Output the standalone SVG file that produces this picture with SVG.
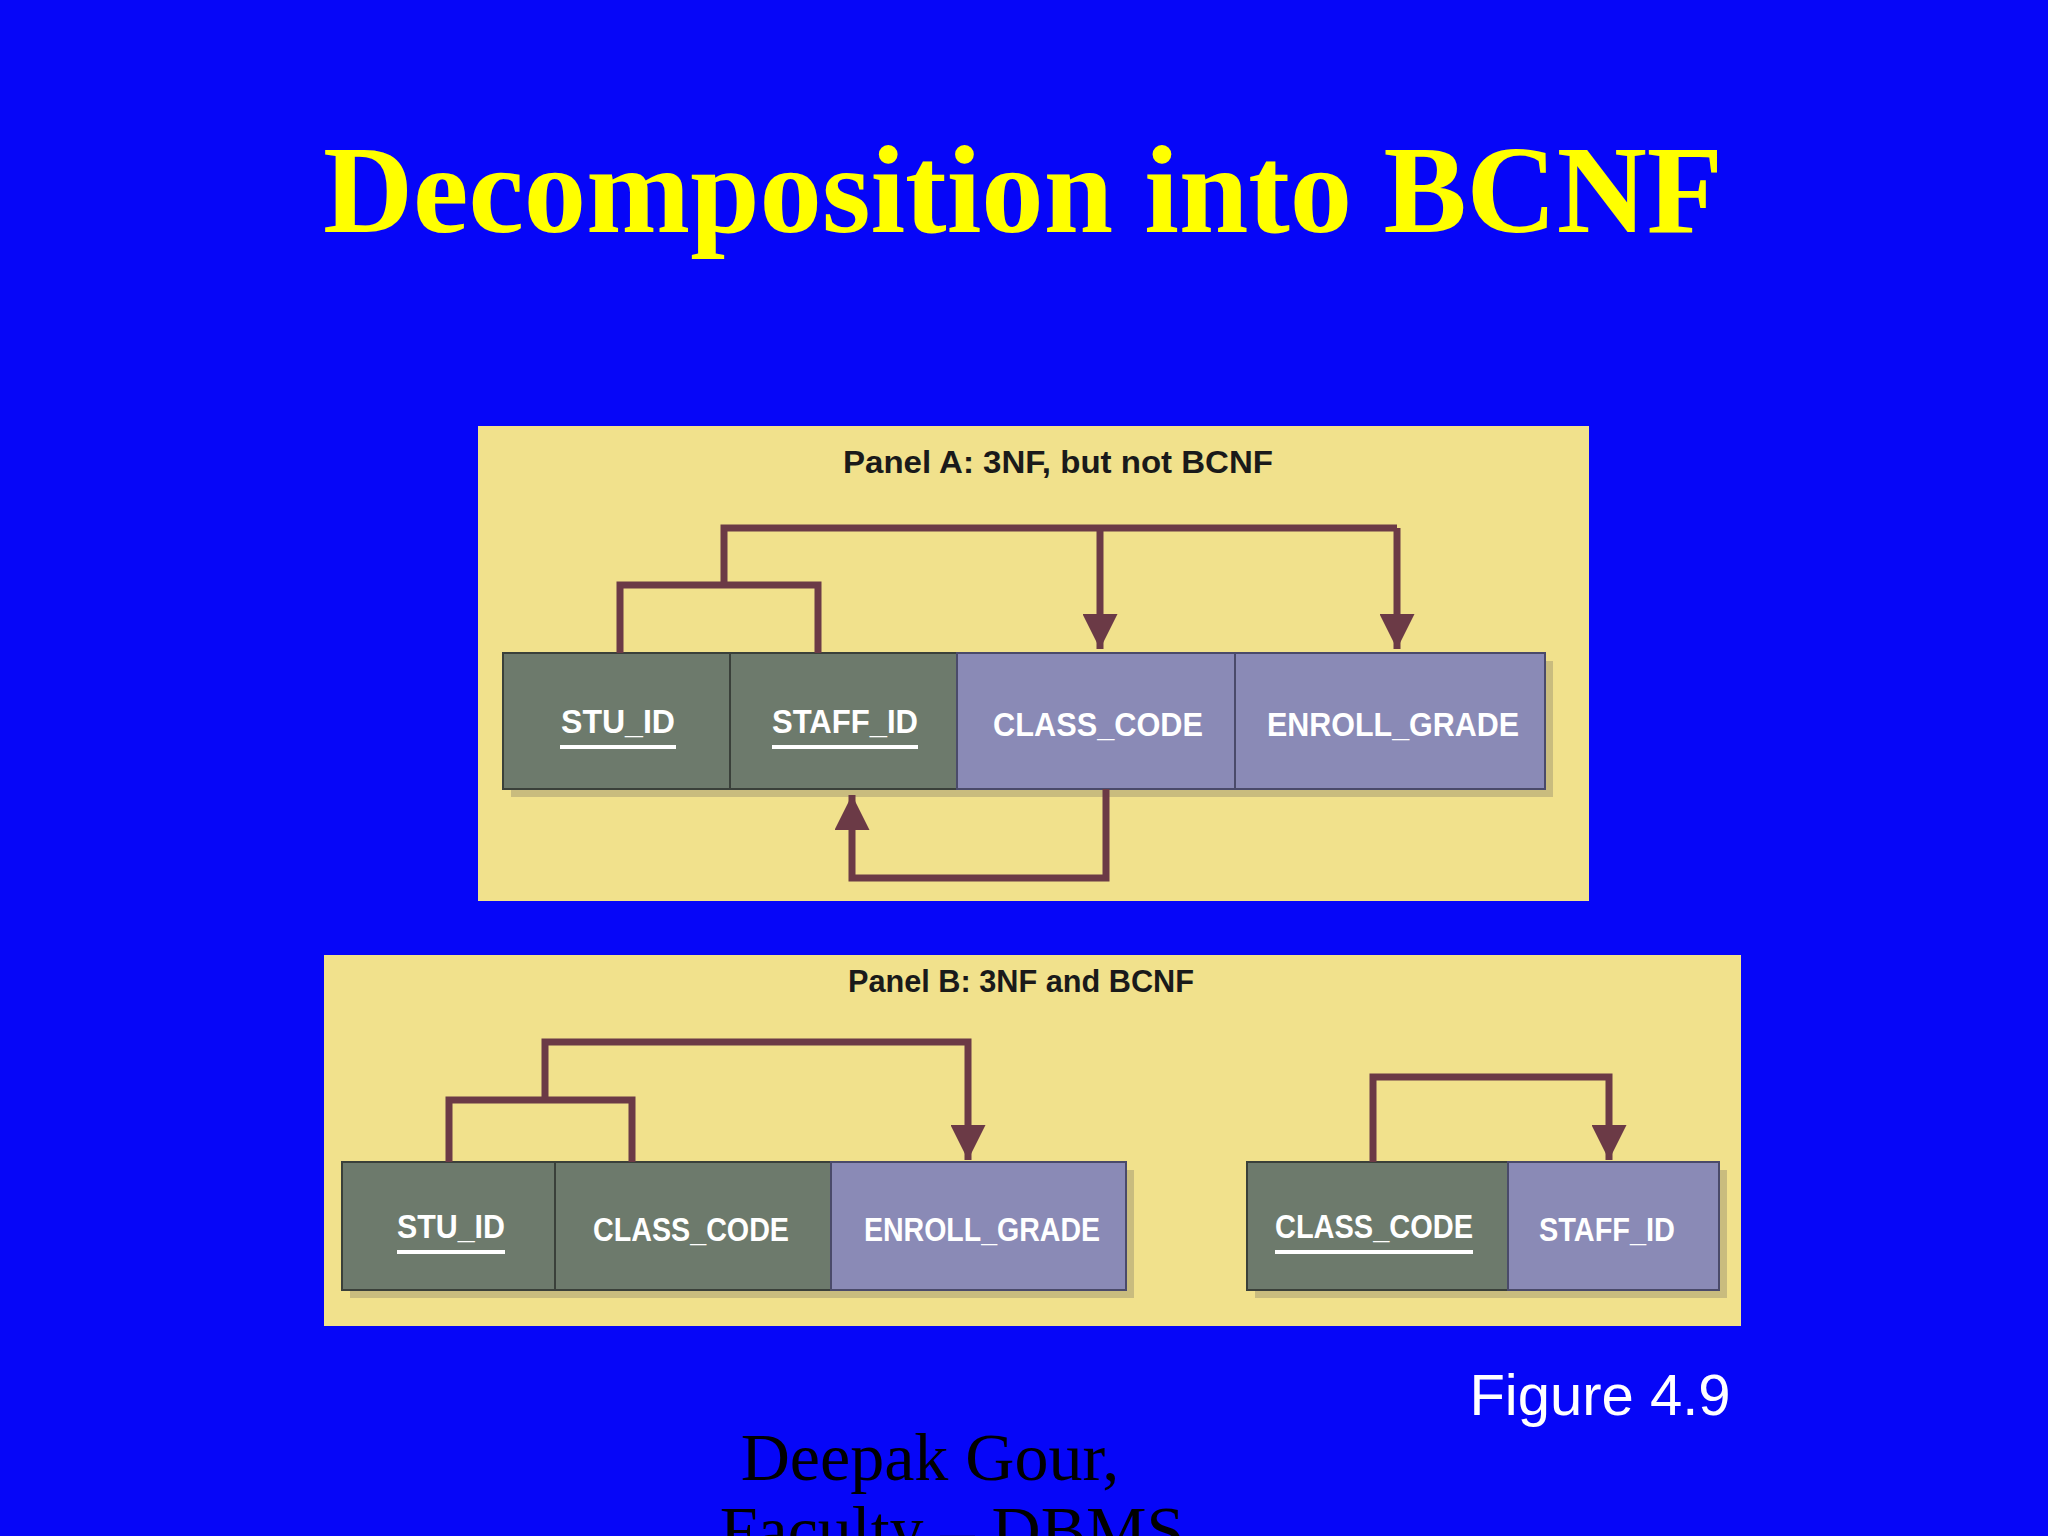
<svg xmlns="http://www.w3.org/2000/svg" width="2048" height="1536" viewBox="0 0 2048 1536">
<defs>
<style>
.panel{fill:#f1e18c}
.key{fill:#6d7a6c;stroke:#3a403a;stroke-width:2}
.non{fill:#8a8ab6;stroke:#4a4a6a;stroke-width:2}
.shadow{fill:#b8ad78;opacity:0.7}
.lbl{font-family:"Liberation Sans",Arial,sans-serif;font-weight:bold;font-size:34px;fill:#ffffff;text-anchor:middle}
.ul{stroke:#ffffff;stroke-width:4}
.ptitle{font-family:"Liberation Sans",Arial,sans-serif;font-weight:bold;font-size:32px;fill:#1a1a1a;text-anchor:middle}
.conn{fill:none;stroke:#6b3a46;stroke-width:7}
</style>
<marker id="ah" viewBox="0 0 10 10" refX="10" refY="5" markerWidth="5" markerHeight="5" markerUnits="strokeWidth" orient="auto">
<path d="M0,0 L10,5 L0,10 z" fill="#6b3a46"/>
</marker>
</defs>
<rect width="2048" height="1536" fill="#0606f8"/>
<text x="1023" y="232" font-family="'Liberation Serif','Times New Roman',serif" font-weight="bold" font-size="124" fill="#ffff00" text-anchor="middle" textLength="1400" lengthAdjust="spacingAndGlyphs">Decomposition into BCNF</text>

<g id="panelA">
<rect class="panel" x="478" y="426" width="1111" height="475"/>
<text class="ptitle" x="1058" y="473" textLength="430" lengthAdjust="spacingAndGlyphs">Panel A: 3NF, but not BCNF</text>
<rect class="shadow" x="511" y="661" width="1042" height="136"/>
</g>
<g id="A_STU_ID"><rect class="key" x="503" y="653" width="227" height="136"/><text class="lbl" x="618" y="733" textLength="114" lengthAdjust="spacingAndGlyphs">STU_ID</text><line class="ul" x1="560" y1="747" x2="676" y2="747"/></g>
<g id="A_STAFF_ID"><rect class="key" x="730" y="653" width="227" height="136"/><text class="lbl" x="845" y="733" textLength="146" lengthAdjust="spacingAndGlyphs">STAFF_ID</text><line class="ul" x1="772" y1="747" x2="918" y2="747"/></g>
<g id="A_CLASS_CODE"><rect class="non" x="957" y="653" width="278" height="136"/><text class="lbl" x="1098" y="736" textLength="210" lengthAdjust="spacingAndGlyphs">CLASS_CODE</text></g>
<g id="A_ENROLL_GRADE"><rect class="non" x="1235" y="653" width="310" height="136"/><text class="lbl" x="1393" y="736" textLength="252" lengthAdjust="spacingAndGlyphs">ENROLL_GRADE</text></g>

<g id="panelB">
<rect class="panel" x="324" y="955" width="1417" height="371"/>
<text class="ptitle" x="1021" y="992" textLength="346" lengthAdjust="spacingAndGlyphs">Panel B: 3NF and BCNF</text>
<rect class="shadow" x="350" y="1170" width="784" height="128"/>
<rect class="shadow" x="1255" y="1170" width="472" height="128"/>
</g>
<g id="B_STU_ID"><rect class="key" x="342" y="1162" width="213" height="128"/><text class="lbl" x="451" y="1238" textLength="108" lengthAdjust="spacingAndGlyphs">STU_ID</text><line class="ul" x1="397" y1="1252" x2="505" y2="1252"/></g>
<g id="B_CLASS_CODE"><rect class="key" x="555" y="1162" width="276" height="128"/><text class="lbl" x="691" y="1241" textLength="196" lengthAdjust="spacingAndGlyphs">CLASS_CODE</text></g>
<g id="B_ENROLL_GRADE"><rect class="non" x="831" y="1162" width="295" height="128"/><text class="lbl" x="982" y="1241" textLength="236" lengthAdjust="spacingAndGlyphs">ENROLL_GRADE</text></g>
<g id="B2_CLASS_CODE"><rect class="key" x="1247" y="1162" width="261" height="128"/><text class="lbl" x="1374" y="1238" textLength="198" lengthAdjust="spacingAndGlyphs">CLASS_CODE</text><line class="ul" x1="1275" y1="1252" x2="1473" y2="1252"/></g>
<g id="B2_STAFF_ID"><rect class="non" x="1508" y="1162" width="211" height="128"/><text class="lbl" x="1607" y="1241" textLength="136" lengthAdjust="spacingAndGlyphs">STAFF_ID</text></g>

<g id="connectors">
<path class="conn" d="M620,653 V585 H818 V653"/>
<path class="conn" d="M724,585 V528 H1397"/>
<path class="conn" d="M1100,528 V649" marker-end="url(#ah)"/>
<path class="conn" d="M1397,528 V649" marker-end="url(#ah)"/>
<path class="conn" d="M1106,789 V878 H852 V795" marker-end="url(#ah)"/>
<path class="conn" d="M449,1162 V1100 H632 V1162"/>
<path class="conn" d="M545,1100 V1042 H968 V1160" marker-end="url(#ah)"/>
<path class="conn" d="M1373,1162 V1077 H1609 V1160" marker-end="url(#ah)"/>
</g>

<text x="1600" y="1415" font-family="'Liberation Sans',Arial,sans-serif" font-size="58" fill="#ffffff" text-anchor="middle">Figure 4.9</text>
<text x="930" y="1480" font-family="'Liberation Serif','Times New Roman',serif" font-size="68" fill="#000000" text-anchor="middle">Deepak Gour,</text>
<text x="952" y="1553" font-family="'Liberation Serif','Times New Roman',serif" font-size="68" fill="#000000" text-anchor="middle">Faculty – DBMS</text>
</svg>
